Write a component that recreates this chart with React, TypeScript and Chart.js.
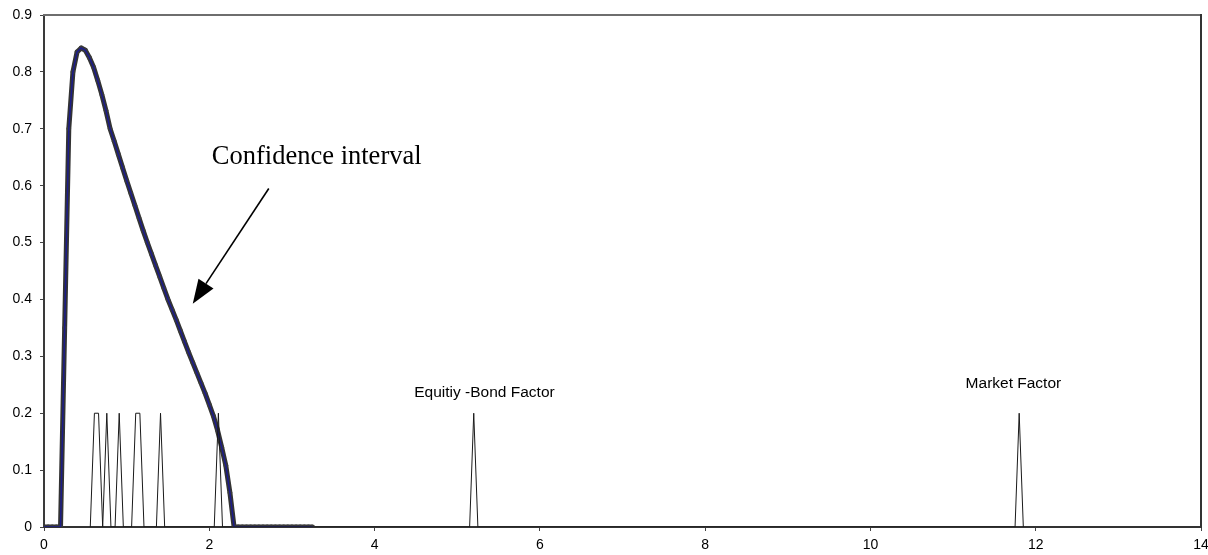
import React, { useEffect, useRef } from "react";
import { Chart, registerables } from "chart.js";

Chart.register(...registerables);

// Confidence interval curve
const curveX = [
  0.0, 0.05, 0.1, 0.15, 0.2, 0.25, 0.3, 0.35, 0.4, 0.45, 0.5, 0.55, 0.6, 0.65, 0.7, 0.75, 0.8,
  0.85, 0.9, 0.95, 1.0, 1.05, 1.1, 1.15, 1.2, 1.25, 1.3, 1.35, 1.4, 1.45, 1.5, 1.55, 1.6, 1.65,
  1.7, 1.75, 1.8, 1.85, 1.9, 1.95, 2.0, 2.05, 2.1, 2.15, 2.2, 2.25, 2.3, 2.35, 2.4, 2.45, 2.5,
  2.55, 2.6, 2.65, 2.7, 2.75, 2.8, 2.85, 2.9, 2.95, 3.0, 3.05, 3.1, 3.15, 3.2, 3.25,
];
const curveY = [
  0, 0, 0, 0, 0, 0.35, 0.7, 0.8, 0.835, 0.842, 0.838, 0.825, 0.808, 0.785, 0.76, 0.732, 0.7,
  0.678, 0.655, 0.632, 0.609, 0.587, 0.565, 0.543, 0.521, 0.5, 0.48, 0.46, 0.44, 0.42, 0.4, 0.382,
  0.364, 0.345, 0.326, 0.307, 0.289, 0.271, 0.253, 0.235, 0.215, 0.195, 0.17, 0.14, 0.108, 0.06,
  0, 0, 0, 0, 0, 0, 0, 0, 0, 0, 0, 0, 0, 0, 0, 0, 0, 0, 0, 0,
];

// Factor spikes
const spikeX = [
  0.56, 0.61, 0.66, 0.71, 0.76, 0.81, 0.86, 0.91, 0.96, 1.06, 1.11, 1.16, 1.21, 1.36, 1.41, 1.46,
  2.06, 2.11, 2.16, 5.15, 5.2, 5.25, 11.75, 11.8, 11.85,
];
const spikeY = [
  0, 0.2, 0.2, 0, 0.2, 0, 0, 0.2, 0, 0, 0.2, 0.2, 0, 0, 0.2, 0, 0, 0.2, 0, 0, 0.2, 0, 0, 0.2, 0,
];

const xTickValues = [0, 2, 4, 6, 8, 10, 12, 14];
const yTickValues = [0, 0.1, 0.2, 0.3, 0.4, 0.5, 0.6, 0.7, 0.8, 0.9];

const annotationText = "Confidence interval";
const equityLabel = "Equitiy -Bond Factor";
const marketLabel = "Market Factor";

export default function App() {
  const ref = useRef<HTMLCanvasElement | null>(null);

  useEffect(() => {
    if (!ref.current) return;
    const curve = curveX.map((x, i) => ({ x, y: curveY[i] }));
    const spikes = spikeX.map((x, i) => ({ x, y: spikeY[i] }));

    const annotations = {
      id: "annotations",
      afterDatasetsDraw(chart: any) {
        const { ctx, chartArea, scales } = chart;
        const xs = scales.x;
        const ys = scales.y;
        ctx.save();
        // top and right frame
        ctx.lineWidth = 2;
        ctx.strokeStyle = "#6e6e6e";
        ctx.beginPath();
        ctx.moveTo(chartArea.left - 1, chartArea.top);
        ctx.lineTo(chartArea.right, chartArea.top);
        ctx.stroke();
        ctx.strokeStyle = "#333333";
        ctx.beginPath();
        ctx.moveTo(chartArea.right, chartArea.top - 1);
        ctx.lineTo(chartArea.right, chartArea.bottom);
        ctx.stroke();

        ctx.fillStyle = "#000";
        ctx.textAlign = "center";
        ctx.textBaseline = "middle";
        ctx.font = '26.5px "Liberation Serif", "Times New Roman", serif';
        ctx.fillText(annotationText, xs.getPixelForValue(3.3), ys.getPixelForValue(0.65));

        ctx.font = '15.5px "Liberation Sans", Arial, sans-serif';
        ctx.fillText(equityLabel, xs.getPixelForValue(5.33), ys.getPixelForValue(0.236));
        ctx.fillText(marketLabel, xs.getPixelForValue(11.73), ys.getPixelForValue(0.252));

        // arrow
        const x1 = xs.getPixelForValue(2.72);
        const y1 = ys.getPixelForValue(0.595);
        const x2 = xs.getPixelForValue(1.8);
        const y2 = ys.getPixelForValue(0.3926);
        const ang = Math.atan2(y2 - y1, x2 - x1);
        const headLen = 24;
        const headHalf = 9;
        const bx = x2 - headLen * Math.cos(ang);
        const by = y2 - headLen * Math.sin(ang);
        ctx.strokeStyle = "#000";
        ctx.lineWidth = 1.6;
        ctx.beginPath();
        ctx.moveTo(x1, y1);
        ctx.lineTo(bx, by);
        ctx.stroke();
        ctx.beginPath();
        ctx.moveTo(x2, y2);
        ctx.lineTo(bx + headHalf * Math.sin(ang), by - headHalf * Math.cos(ang));
        ctx.lineTo(bx - headHalf * Math.sin(ang), by + headHalf * Math.cos(ang));
        ctx.closePath();
        ctx.fill();
        ctx.restore();
      },
    };

    const tickFont = { family: '"Liberation Sans", Arial, sans-serif', size: 14 };

    const chart = new Chart(ref.current, {
      type: "scatter",
      data: {
        datasets: [
          {
            data: spikes,
            showLine: true,
            borderColor: "#1a1a1a",
            borderWidth: 1,
            pointRadius: 0,
            tension: 0,
            order: 0,
          },
          {
            data: curve,
            showLine: true,
            borderColor: "#1c1c8a",
            borderWidth: 1.5,
            pointRadius: 0,
            tension: 0,
            order: 1,
          },
          {
            data: curve,
            showLine: true,
            borderColor: "#333333",
            borderWidth: 5,
            pointRadius: 2.4,
            pointBackgroundColor: "#3a3a3a",
            pointBorderWidth: 0,
            borderJoinStyle: "round",
            tension: 0,
            order: 2,
          },
        ],
      },
      options: {
        animation: false,
        responsive: false,
        devicePixelRatio: 1,
        layout: { padding: { top: 15, right: 7, left: 0, bottom: 0 } },
        plugins: {
          legend: { display: false },
          tooltip: { enabled: false },
        },
        scales: {
          x: {
            type: "linear",
            min: 0,
            max: 14,
            afterBuildTicks: (scale: any) => {
              scale.ticks = xTickValues.map((v) => ({ value: v }));
            },
            afterFit: (scale: any) => {
              scale.height = 28;
              scale.paddingLeft = 0;
              scale.paddingRight = 0;
            },
            ticks: {
              color: "#000",
              font: tickFont,
              padding: 6,
              maxRotation: 0,
              callback: (v: any) => String(v),
            },
            grid: {
              display: true,
              drawOnChartArea: false,
              drawTicks: true,
              tickLength: 4,
              tickColor: "#444",
            },
            border: { display: true, color: "#333333", width: 2 },
          },
          y: {
            type: "linear",
            min: 0,
            max: 0.9,
            afterBuildTicks: (scale: any) => {
              scale.ticks = yTickValues.map((v) => ({ value: v }));
            },
            afterFit: (scale: any) => {
              scale.width = 44;
              scale.paddingTop = 0;
              scale.paddingBottom = 0;
            },
            ticks: {
              color: "#000",
              font: tickFont,
              padding: 8,
              callback: (v: any) => String(Number(Number(v).toFixed(1))),
            },
            grid: {
              display: true,
              drawOnChartArea: false,
              drawTicks: true,
              tickLength: 4,
              tickColor: "#444",
            },
            border: { display: true, color: "#3a3a3a", width: 2 },
          },
        },
      },
      plugins: [annotations],
    });
    return () => chart.destroy();
  }, []);

  return (
    <div style={{ position: "absolute", left: 0, top: 0, width: 1208, height: 555, background: "#fff" }}>
      <canvas ref={ref} width={1208} height={555} style={{ display: "block" }} />
    </div>
  );
}
